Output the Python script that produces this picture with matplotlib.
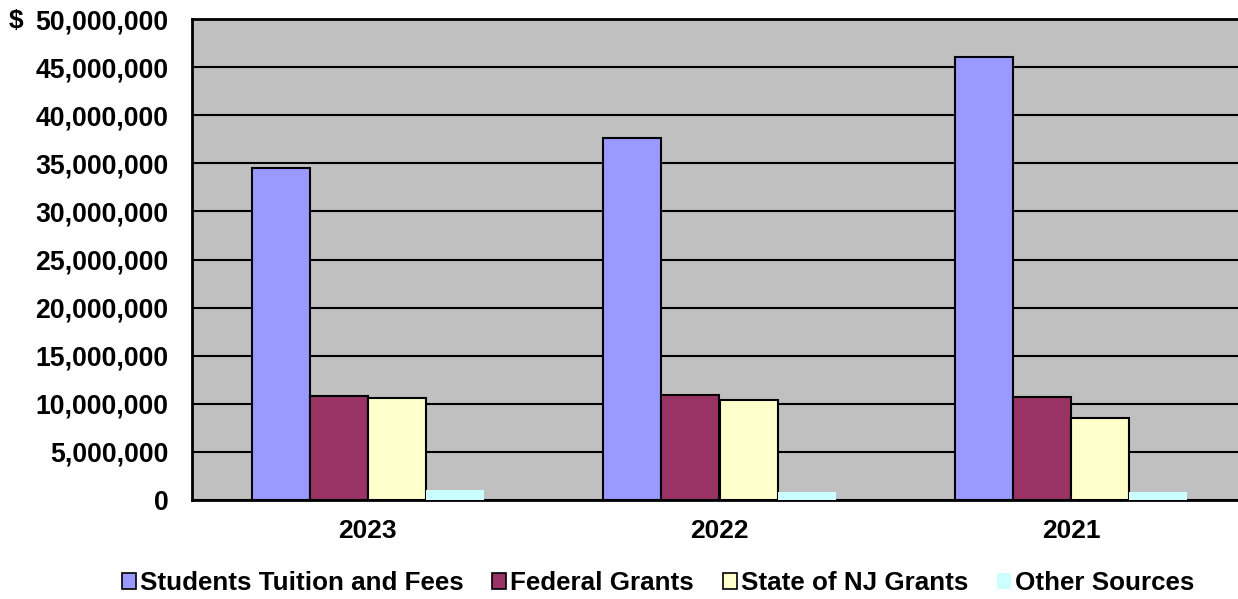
import matplotlib
matplotlib.use("Agg")
import matplotlib.pyplot as plt
from matplotlib.patches import Patch
import numpy as np

years = ["2023", "2022", "2021"]
series_names = ["Students Tuition and Fees", "Federal Grants", "State of NJ Grants", "Other Sources"]
tuition = [34.5e6, 37.6e6, 46.0e6]
federal = [10.8e6, 10.9e6, 10.7e6]
state = [10.6e6, 10.4e6, 8.5e6]
other = [1.0e6, 0.8e6, 0.8e6]
colors = ["#9999FF", "#993366", "#FFFFCC", "#CCFFFF"]
edges = ["black", "black", "black", "none"]
yticks = list(range(0, 50000001, 5000000))

plt.rcParams['font.family'] = ['Liberation Sans', 'DejaVu Sans']
plt.rcParams['font.weight'] = 'bold'

fig = plt.figure(figsize=(12.38, 5.99), dpi=100)
W, H = 1238, 599
left, right, top, bottom = 192, 1247, 19, 500
ax = fig.add_axes([left / W, 1 - bottom / H, (right - left) / W, (bottom - top) / H])
ax.set_facecolor("#C0C0C0")

x = np.arange(len(years))
bw = 0.165
data = [tuition, federal, state, other]
for i, (vals, c, ec) in enumerate(zip(data, colors, edges)):
    ax.bar(x + (i - 1.5) * bw, vals, width=bw, color=c, edgecolor=ec,
           linewidth=1.5 if ec != "none" else 0, zorder=3)

ax.set_xlim(-0.5, len(years) - 0.5)
ax.set_ylim(0, 50000000)
ax.set_yticks(yticks)
labels = [f"{v:,}" for v in yticks]
ax.set_yticklabels(labels, fontsize=19.2, fontweight='bold')
ax.set_xticks(x)
ax.set_xticklabels(years, fontsize=19, fontweight='bold')
ax.tick_params(axis='y', length=0, pad=17)
ax.tick_params(axis='x', length=0, pad=14)
ax.grid(axis='y', color='black', linewidth=1.5, zorder=1)
ax.set_axisbelow(True)
for s in ax.spines.values():
    s.set_color('black')
    s.set_linewidth(2)
ax.spines['right'].set_visible(False)

fig.text(9 / W, 1 - 21 / H, "$", fontsize=19, fontweight='bold', va='center', ha='left')

handles = [Patch(facecolor=c, edgecolor=ec, linewidth=1.2 if ec != "none" else 0) for c, ec in zip(colors, edges)]
fig.legend(handles, series_names, loc='center', bbox_to_anchor=(658 / W, 1 - 583 / H),
           ncol=4, frameon=False, handlelength=0.55, handleheight=0.55,
           handletextpad=0.15, columnspacing=1.1, prop={'weight': 'bold', 'size': 18.7})

fig.savefig("out.png", dpi=100)
